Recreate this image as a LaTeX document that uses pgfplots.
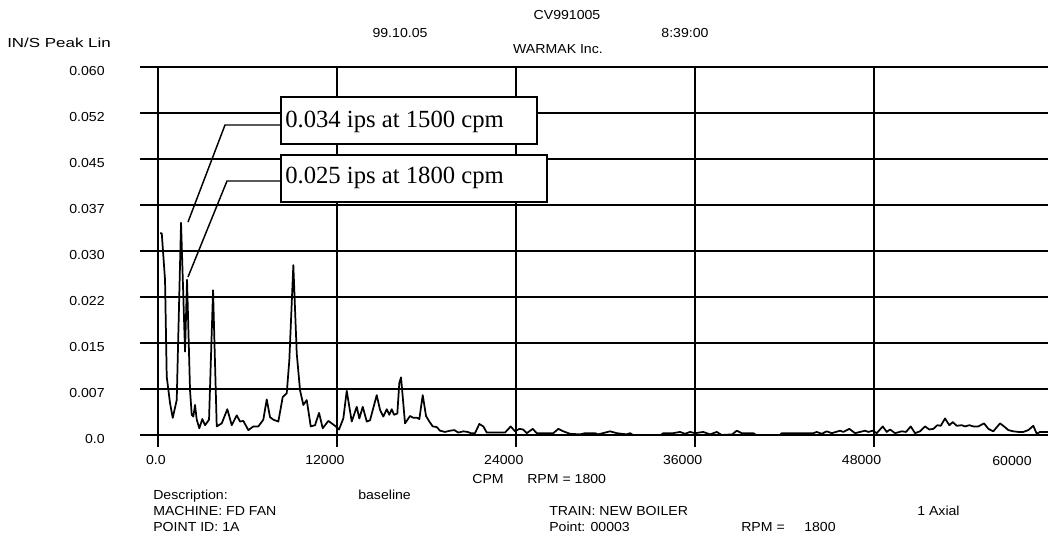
\documentclass[border=0pt]{standalone}
\usepackage{fontspec}
\setmainfont{Liberation Sans}[FakeStretch=1.08]
\newfontfamily\tnr{Liberation Serif}
\usepackage{pgfplots}
\pgfplotsset{compat=1.18}
\newcommand{\sz}{\fontsize{9.8}{11}\selectfont}
\begin{document}
\begin{tikzpicture}
\path[use as bounding box] (0,0) rectangle (786pt,-404.25pt);
\begin{axis}[
  at={(105pt,-326.25pt)}, anchor=south west,
  scale only axis, width=681pt, height=276pt,
  xmin=-1230, xmax=59680, ymin=0, ymax=0.06,
  axis lines=left, axis line style={draw=none,-},
  clip=false,
  xtick={0,12000,24000,36000,48000},
  xticklabels={0.0,12000,24000,36000,48000},
  ytick={0,0.0075,0.015,0.0225,0.03,0.0375,0.045,0.0525,0.06},
  yticklabels={0.0,0.007,0.015,0.022,0.030,0.037,0.045,0.052,0.060},
  scaled ticks=false,
  grid=major, major grid style={black, line width=1.5pt},
  tick align=outside, major tick length=9pt,
  xtick style={black, line width=1.5pt},
  ytick style={draw=none},
  tick label style={font=\sz},
  xticklabel style={anchor=north east, xshift=9pt, yshift=-3pt},
  yticklabel style={anchor=east, xshift=-14pt, yshift=-3pt},
]
\addplot[black, line width=1.3pt, line join=round] coordinates {
(114,0.0329)(230,0.0329)(449,0.0253)(563,0.0095)(785,0.0052)(966,0.0028)(1234,0.0057)
(1523,0.0346)(1791,0.0136)(1925,0.0253)(2126,0.0073)(2240,0.0033)(2348,0.0030)(2462,0.0049)
(2576,0.0025)(2750,0.0011)(2952,0.0026)(3133,0.0016)(3401,0.0025)(3670,0.0236)(3917,0.0014)
(4253,0.0019)(4628,0.0042)(4924,0.0016)(5259,0.0032)(5480,0.0022)(5702,0.0023)(6037,0.0008)
(6373,0.0014)(6708,0.0014)(7043,0.0025)(7271,0.0058)(7493,0.0029)(7714,0.0025)(8050,0.0022)
(8345,0.0062)(8613,0.0068)(8787,0.0122)(9056,0.0277)(9284,0.0133)(9505,0.0073)(9727,0.0049)
(9955,0.0057)(10223,0.0014)(10511,0.0016)(10780,0.0036)(11028,0.0011)(11404,0.0023)(11853,0.0015)
(12121,0.0009)(12410,0.0027)(12638,0.0072)(12973,0.0022)(13309,0.0046)(13483,0.0027)(13711,0.0046)
(13980,0.0022)(14201,0.0024)(14650,0.0065)(14872,0.0041)(15093,0.0030)(15321,0.0042)(15495,0.0033)
(15656,0.0042)(15811,0.0033)(16032,0.0035)(16166,0.0085)(16280,0.0094)(16549,0.0019)(16884,0.0031)
(17106,0.0028)(17374,0.0028)(17508,0.0026)(17736,0.0065)(17957,0.0031)(18179,0.0022)(18407,0.0014)
(18675,0.0013)(18896,0.0007)(19232,0.0005)(19567,0.0007)(19856,0.0008)(20124,0.0004)(20459,0.0006)
(20754,0.0005)(20955,0.0003)(21244,0.0003)(21532,0.0018)(21801,0.0014)(22029,0.0004)(23256,0.0004)
(23639,0.0014)(23927,0.0006)(24216,0.0010)(24464,0.0009)(24712,0.0003)(25115,0.0010)(25383,0.0003)
(26497,0.0003)(26832,0.0010)(27168,0.0006)(27617,0.0002)(28288,0.0001)(28623,0.0003)(29294,0.0003)
(29500,0.0001)(30300,0.0006)(30750,0.0003)(31421,0.0001)(31642,0.0003)(31843,0.0000)(33700,0.0000)
(33875,0.0003)(34526,0.0003)(34995,0.0005)(35331,0.0002)(35666,0.0005)(36001,0.0003)(36558,0.0005)
(37008,0.0001)(37457,0.0005)(37793,0.0000)(38500,0.0001)(38799,0.0007)(39135,0.0003)(39913,0.0003)
(40100,0.0000)(41700,0.0000)(41818,0.0003)(43938,0.0003)(44166,0.0005)(44501,0.0002)(44837,0.0006)
(45172,0.0003)(45729,0.0007)(45950,0.0005)(46353,0.0010)(46735,0.0003)(47071,0.0005)(47406,0.0007)
(47627,0.0005)(47922,0.0007)(48191,0.0003)(48593,0.0014)(48862,0.0005)(49083,0.0009)(49418,0.0003)
(49868,0.0006)(50156,0.0005)(50471,0.0014)(50760,0.0003)(51095,0.0006)(51431,0.0014)(51719,0.0009)
(51987,0.0010)(52256,0.0016)(52484,0.0015)(52772,0.0027)(53060,0.0016)(53288,0.0021)(53557,0.0015)
(53892,0.0016)(54114,0.0014)(54402,0.0016)(54670,0.0014)(55006,0.0014)(55388,0.0019)(55677,0.0010)
(56012,0.0006)(56461,0.0019)(56730,0.0014)(57018,0.0008)(57353,0.0006)(57689,0.0005)(58024,0.0005)
(58360,0.0008)(58695,0.0015)(58923,0.0002)(59144,0.0005)(59681,0.0005)
};
\end{axis}
\begin{scope}[x=0.75pt, y=-0.75pt, every node/.style={inner sep=0pt, font=\sz}]
\node[anchor=base] at (567,19) {CV991005};
\node[anchor=base] at (400,37) {99.10.05};
\node[anchor=base] at (685,37) {8:39:00};
\node[anchor=base] at (558,53) {WARMAK Inc.};
\node[anchor=base west] at (7,47) {\scalebox{1.2}[1]{IN/S Peak Lin}};
\node[anchor=base] at (1012,465) {60000};
\node[anchor=base] at (488,483) {CPM};
\node[anchor=base west] at (527,483) {RPM = 1800};
\node[anchor=base west] at (153,499) {Description:};
\node[anchor=base west] at (358,499) {baseline};
\node[anchor=base west] at (153,515) {MACHINE: FD FAN};
\node[anchor=base west] at (549,515) {TRAIN: NEW BOILER};
\node[anchor=base west] at (917,515) {1 Axial};
\node[anchor=base west] at (153,531) {POINT ID: 1A};
\node[anchor=base west] at (549,531) {Point: 00003};
\node[anchor=base west] at (741,531) {RPM =};
\node[anchor=base west] at (804,531) {1800};
\draw[line width=1.5pt, fill=white] (281,97) rectangle (537,144);
\draw[line width=1.5pt, fill=white] (281,155) rectangle (547,202);
\node[anchor=base west, font=\tnr\fontsize{18.5}{20}\selectfont] at (285,127) {0.034 ips at 1500 cpm};
\node[anchor=base west, font=\tnr\fontsize{18.5}{20}\selectfont] at (285,183) {0.025 ips at 1800 cpm};
\draw[line width=1.1pt] (281,125) -- (225,125) -- (188,222);
\draw[line width=1.1pt] (281,181) -- (227,181) -- (188,277);
\end{scope}
\end{tikzpicture}
\end{document}
